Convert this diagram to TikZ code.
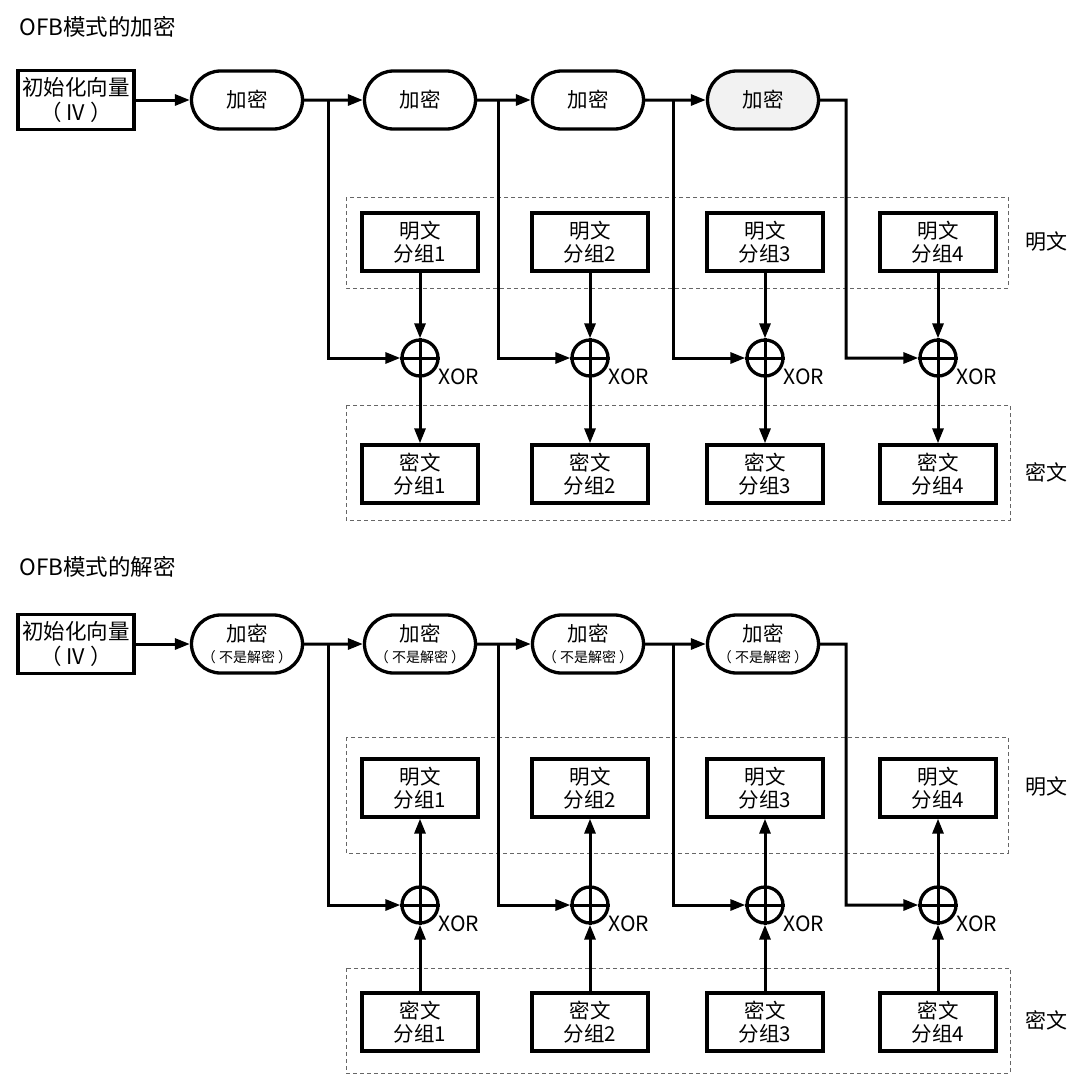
\documentclass[tikz,border=0pt]{standalone}
\usepackage{fontspec}
\setmainfont{Noto Sans CJK SC}
\usetikzlibrary{shapes.misc,arrows.meta,calc}
\newcommand\subtxt{\fontsize{14}{16}\selectfont}
\begin{document}
\begin{tikzpicture}[x=1pt,y=-1pt,
  line width=3pt, line join=miter,
  >={Triangle[length=15pt,width=11pt]},
  title/.style={anchor=west,inner sep=0pt,font=\fontsize{22.5}{26}\selectfont},
  ivbox/.style={draw,line width=3.3pt,minimum width=116pt,minimum height=59pt,inner sep=0pt,align=center,font=\fontsize{21.5}{25}\selectfont},
  encbox/.style={draw,rounded rectangle,line width=3.3pt,minimum width=111pt,minimum height=58pt,inner sep=0pt,align=center,font=\fontsize{20.5}{23}\selectfont},
  blockbox/.style={draw,line width=3.3pt,minimum width=116pt,minimum height=58pt,inner sep=0pt,align=center,font=\fontsize{20.5}{23}\selectfont},
  xorc/.style={draw,circle,line width=3.3pt,minimum size=36pt,inner sep=0pt},
  xorlbl/.style={anchor=west,inner sep=0pt,font=\fontsize{21}{24}\selectfont},
  group/.style={draw=black!60,line width=1pt,dash pattern=on 4pt off 3pt},
  side/.style={inner sep=0pt,font=\fontsize{21}{24}\selectfont},
]
\useasboundingbox[fill=white] (0,0) rectangle (1084,1084);

% ===== Encryption =====
\draw[group] (346,197) rectangle (1008,288);
\draw[group] (346,405) rectangle (1010,520);
\node[title] (t1) at (18,27) {OFB模式的加密};
\node[ivbox] (iv1) at (76,100) {初始化向量\\（ IV ）};
\node[encbox] (e11) at (247,100) {加密};
\node[encbox] (e12) at (420,100) {加密};
\node[encbox] (e13) at (588,100) {加密};
\node[encbox,fill=black!5] (e14) at (763,100) {加密};
\coordinate (j11) at (328,100);
\coordinate (j12) at (498,100);
\coordinate (j13) at (673,100);
\coordinate (j14) at (846,100);
\foreach \i/\x in {1/420,2/590,3/765,4/938}{
  \node[blockbox] (p1\i) at (\x,242) {明文\\分组\i};
  \node[xorc] (x1\i) at (\x,358) {};
  \node[blockbox] (c1\i) at (\x,474) {密文\\分组\i};
  \node[xorlbl] (l1\i) at ([shift={(17,19)}]x1\i.center) {XOR};
  \draw (x1\i.north) -- (x1\i.south) (x1\i.west) -- (x1\i.east);
  \draw[->] (p1\i) -- (x1\i);
  \draw[->] (x1\i) -- (c1\i);
}
\node[side] (s11) at (1046,242) {明文};
\node[side] (s12) at (1046,472) {密文};
\draw[->] (iv1) -- (e11);
\draw[->] (e11) -- (e12);
\draw[->] (e12) -- (e13);
\draw[->] (e13) -- (e14);
\draw[->] (j11) |- (x11);
\draw[->] (j12) |- (x12);
\draw[->] (j13) |- (x13);
\draw[->] (e14) -- (j14) |- (x14);

% ===== Decryption =====
\draw[group] (346,737) rectangle (1008,853);
\draw[group] (346,968) rectangle (1010,1073);
\node[title] (t2) at (18,567) {OFB模式的解密};
\node[ivbox] (iv2) at (76,644) {初始化向量\\（ IV ）};
\foreach \i/\x in {1/247,2/420,3/588,4/763}{
  \node[encbox] (e2\i) at (\x,644) {加密\\[-2pt]{\subtxt （ 不是解密 ）}};
}
\coordinate (j21) at (328,644);
\coordinate (j22) at (498,644);
\coordinate (j23) at (673,644);
\coordinate (j24) at (846,644);
\foreach \i/\x in {1/420,2/590,3/765,4/938}{
  \node[blockbox] (p2\i) at (\x,788) {明文\\分组\i};
  \node[xorc] (x2\i) at (\x,905) {};
  \node[blockbox] (c2\i) at (\x,1022) {密文\\分组\i};
  \node[xorlbl] (l2\i) at ([shift={(17,19)}]x2\i.center) {XOR};
  \draw (x2\i.north) -- (x2\i.south) (x2\i.west) -- (x2\i.east);
  \draw[->] (c2\i) -- (x2\i);
  \draw[->] (x2\i) -- (p2\i);
}
\node[side] (s21) at (1046,787) {明文};
\node[side] (s22) at (1046,1020) {密文};
\draw[->] (iv2) -- (e21);
\draw[->] (e21) -- (e22);
\draw[->] (e22) -- (e23);
\draw[->] (e23) -- (e24);
\draw[->] (j21) |- (x21);
\draw[->] (j22) |- (x22);
\draw[->] (j23) |- (x23);
\draw[->] (e24) -- (j24) |- (x24);
\end{tikzpicture}
\end{document}
